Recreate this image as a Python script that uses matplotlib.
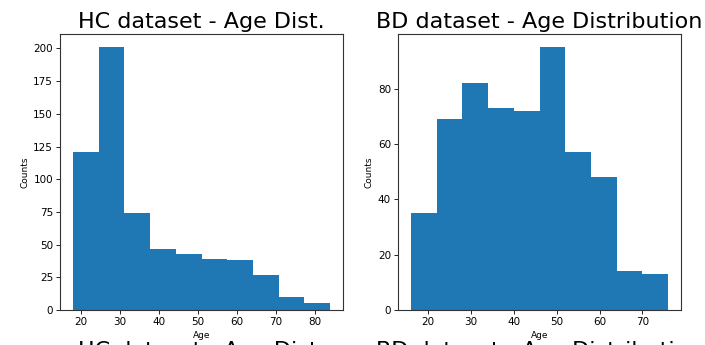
import numpy as np
import matplotlib
matplotlib.use('Agg')
import matplotlib.pyplot as plt

# HC ages: 10 bins from 18 to 84
hc_edges = [18, 24.6, 31.2, 37.8, 44.4, 51, 57.6, 64.2, 70.8, 77.4, 84]
hc_counts = [121, 201, 74, 47, 43, 39, 38, 27, 10, 5]

# BD ages: 10 bins from 16 to 76
bd_edges = [16, 22, 28, 34, 40, 46, 52, 58, 64, 70, 76]
bd_counts = [35, 69, 82, 73, 72, 95, 57, 48, 14, 13]

titles = ['HC dataset - Age Dist.', 'BD dataset - Age Distribution']

W, H = 705, 345
fig = plt.figure(figsize=(W/100, H/100), dpi=100)

def px_axes(l, t, r, b):
    return fig.add_axes([l/W, 1-b/H, (r-l)/W, (b-t)/H])

ax1 = px_axes(60, 34, 343, 310)
ax2 = px_axes(398, 34, 681, 310)

for ax, edges, counts, title in [(ax1, hc_edges, hc_counts, titles[0]),
                                 (ax2, bd_edges, bd_counts, titles[1])]:
    ax.hist(edges[:-1], bins=edges, weights=counts, color='#1f77b4')
    ax.set_title(title, fontsize=16, pad=4)
    ax.set_xlabel('Age', fontsize=6.5, labelpad=3)
    ax.set_ylabel('Counts', fontsize=6.5, labelpad=3)
    ax.tick_params(labelsize=7.5, length=3, width=0.6, pad=2)
    for s in ax.spines.values():
        s.set_linewidth(0.8)
        s.set_color('#333333')

ax1.set_yticks([0, 25, 50, 75, 100, 125, 150, 175, 200])
ax2.set_yticks([0, 20, 40, 60, 80])

# titles of the next row of plots, cut off at the bottom edge
for ax, title in [(ax1, titles[0]), (ax2, titles[1])]:
    pos = ax.get_position()
    fig.text(pos.x0 + pos.width/2, (H-357)/H, title, fontsize=16,
             ha='center', va='baseline')

fig.savefig('out.png', dpi=100)
